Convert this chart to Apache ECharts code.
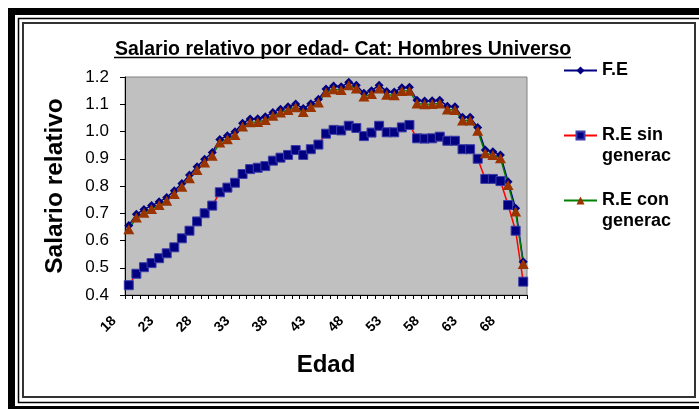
<!DOCTYPE html>
<html>
<head>
<meta charset="utf-8">
<script src="https://cdn.jsdelivr.net/npm/echarts@6/dist/echarts.min.js"></script>
<style>
  html, body { margin: 0; padding: 0; background: #fff; }
  #chart { width: 699px; height: 409px; }
</style>
</head>
<body>
<div id="chart"></div>
<script>
// edades 18..70
var edades = [18,19,20,21,22,23,24,25,26,27,28,29,30,31,32,33,34,35,36,37,38,39,40,41,42,43,44,
  45,46,47,48,49,50,51,52,53,54,55,56,57,58,59,60,61,62,63,64,65,66,67,68,69,70];

var fe = [0.655,0.696,0.714,0.728,0.742,0.758,0.783,0.809,0.840,0.871,0.898,0.923,0.971,0.984,0.999,
  1.030,1.046,1.047,1.054,1.070,1.082,1.091,1.101,1.084,1.102,1.118,1.156,1.167,1.164,1.181,1.170,
  1.140,1.150,1.170,1.147,1.145,1.161,1.162,1.115,1.112,1.113,1.115,1.093,1.091,1.052,1.052,1.015,
  0.932,0.926,0.914,0.816,0.718,0.522];

var reSinGenerac = [0.436,0.478,0.502,0.517,0.535,0.553,0.575,0.608,0.636,0.670,0.700,0.728,0.777,
  0.794,0.812,0.844,0.862,0.867,0.873,0.893,0.904,0.914,0.932,0.914,0.935,0.952,0.992,1.006,1.004,
  1.021,1.013,0.983,0.996,1.021,0.997,0.997,1.015,1.024,0.975,0.974,0.975,0.981,0.966,0.966,0.935,
  0.935,0.900,0.826,0.826,0.818,0.730,0.636,0.449];

var reConGenerac = [0.641,0.684,0.702,0.716,0.730,0.746,0.771,0.797,0.828,0.859,0.886,0.911,0.960,
  0.972,0.987,1.018,1.034,1.035,1.042,1.058,1.070,1.079,1.089,1.072,1.090,1.106,1.144,1.155,1.152,
  1.170,1.158,1.128,1.138,1.158,1.135,1.133,1.149,1.150,1.103,1.100,1.101,1.103,1.081,1.079,1.040,
  1.040,1.003,0.920,0.914,0.902,0.804,0.706,0.514];

var fuente = '"Liberation Sans", Arial, sans-serif';
var nombres = ['F.E', 'R.E sin\ngenerac', 'R.E con\ngenerac'];

var chart = echarts.init(document.getElementById('chart'));

function leyenda(nombre, top) {
  return {
    data: [nombre],
    left: 563,
    top: top,
    padding: 0,
    orient: 'vertical',
    itemWidth: 33,
    itemHeight: 10,
    selectedMode: false,
    formatter: function (n) { return n.indexOf('\n') >= 0 ? '\n' + n : n; },
    textStyle: { fontFamily: fuente, fontSize: 18, fontWeight: 'bold', color: '#000', lineHeight: 21 }
  };
}

var option = {
  animation: false,
  title: {
    text: 'Salario relativo por edad- Cat: Hombres Universo',
    left: 110,
    top: 35,
    textStyle: { fontFamily: fuente, fontSize: 19.5, fontWeight: 'bold', color: '#000' }
  },
  legend: [leyenda(nombres[0], 60), leyenda(nombres[1], 104), leyenda(nombres[2], 169)],
  grid: {
    left: 125, right: 172, top: 77, bottom: 114,
    show: true, backgroundColor: '#C0C0C0', borderColor: '#808080', borderWidth: 1
  },
  xAxis: {
    type: 'category',
    data: edades,
    boundaryGap: true,
    name: 'Edad',
    nameLocation: 'middle',
    nameGap: 58,
    nameTextStyle: { fontFamily: fuente, fontSize: 24, fontWeight: 'bold', color: '#000' },
    axisLine: { lineStyle: { color: '#000', width: 1 } },
    axisTick: { show: true, interval: 0, length: 4, lineStyle: { color: '#000' } },
    axisLabel: {
      interval: 4, rotate: 45, margin: 9, padding: [0, 21, 0, 0],
      fontFamily: fuente, fontSize: 14, fontWeight: 'bold', color: '#000'
    },
    splitLine: { show: false }
  },
  yAxis: {
    type: 'value',
    min: 0.4, max: 1.2, interval: 0.1,
    name: 'Salario relativo',
    nameLocation: 'middle',
    nameGap: 57,
    nameTextStyle: { fontFamily: fuente, fontSize: 24.5, fontWeight: 'bold', color: '#000' },
    axisLine: { show: true, lineStyle: { color: '#000', width: 1 } },
    axisTick: { show: true, length: 5, lineStyle: { color: '#000' } },
    axisLabel: {
      margin: 16, fontFamily: fuente, fontSize: 17, color: '#000',
      formatter: function (v) { return v.toFixed(1); }
    },
    splitLine: { show: false }
  },
  series: [
    {
      name: nombres[0], type: 'line', data: fe,
      symbol: 'diamond', symbolSize: 9, showAllSymbol: true,
      lineStyle: { color: '#000080', width: 1.5 },
      itemStyle: { color: '#000080' }
    },
    {
      name: nombres[1], type: 'line', data: reSinGenerac,
      symbol: 'rect', symbolSize: 9, showAllSymbol: true,
      lineStyle: { color: '#FF0000', width: 1.5 },
      itemStyle: { color: '#000080', borderColor: '#3c3caa', borderWidth: 1 }
    },
    {
      name: nombres[2], type: 'line', data: reConGenerac,
      symbol: 'triangle', symbolSize: [11, 10], showAllSymbol: true,
      lineStyle: { color: '#008000', width: 1.5 },
      itemStyle: { color: '#993300' }
    }
  ],
  graphic: [
    { type: 'rect', silent: true, z: 100, shape: { x: 11.5, y: 11.5, width: 700, height: 398 },
      style: { fill: 'none', stroke: '#000', lineWidth: 7 } },
    { type: 'rect', silent: true, z: 100, shape: { x: 18.5, y: 18.5, width: 690, height: 384 },
      style: { fill: 'none', stroke: '#000', lineWidth: 1.5 } },
    { type: 'rect', silent: true, z: 100, shape: { x: 23, y: 23, width: 672, height: 374 },
      style: { fill: 'none', stroke: '#333', lineWidth: 2 } },
    // subrayado del título
    { type: 'line', silent: true, z: 100, shape: { x1: 114, y1: 57.5, x2: 571, y2: 57.5 },
      style: { stroke: '#000', lineWidth: 1.5 } }
  ]
};

chart.setOption(option);
</script>
</body>
</html>
